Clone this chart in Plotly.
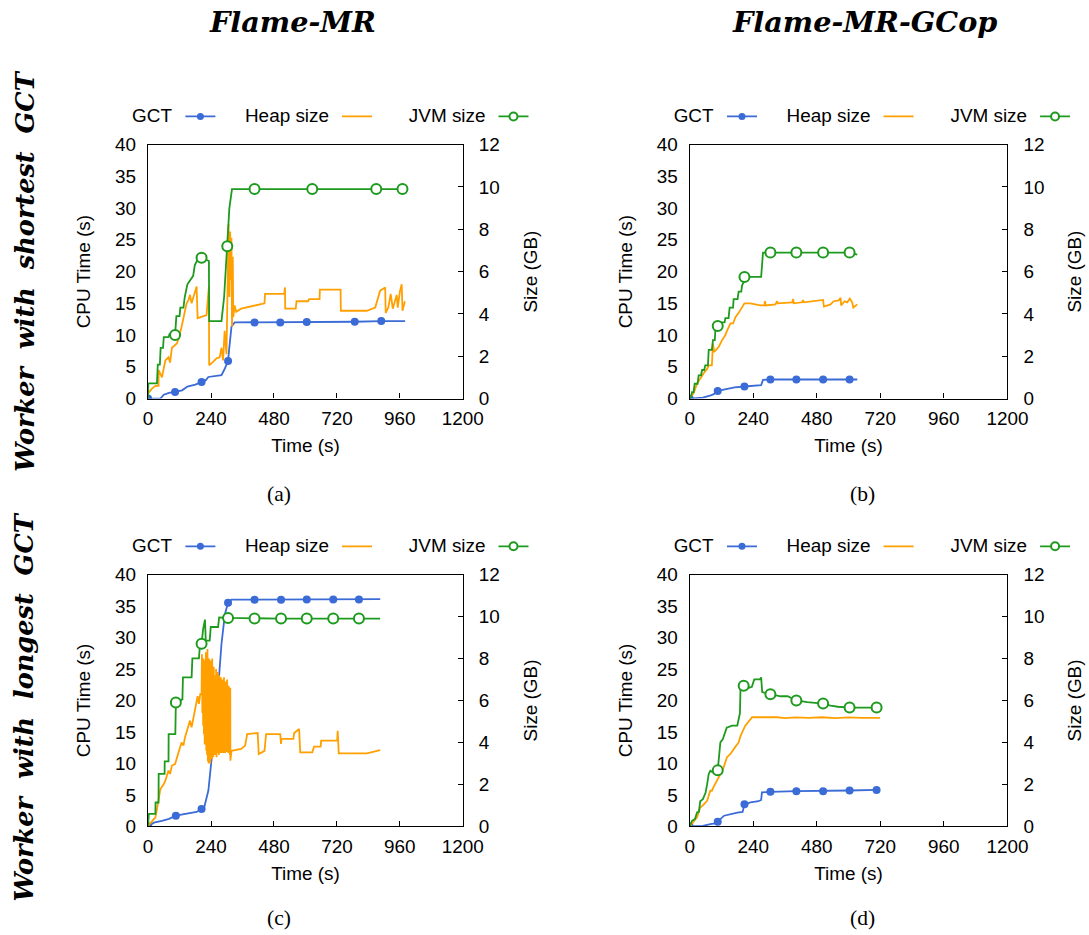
import plotly.graph_objects as go

# ---------------- DATA ----------------
# Panel (a): Flame-MR, worker with shortest GCT
a_gct_t = [0, 47, 60, 80, 103, 130, 150, 180, 204, 220, 230, 280, 290, 305, 310, 318, 330, 406, 504, 605, 788, 889, 980]
a_gct_v = [0, 0, 0.6, 0.9, 1.05, 1.3, 1.9, 2.2, 2.6, 2.9, 3.4, 3.7, 4.5, 5.9, 8.1, 11.3, 12.0, 12.0, 12.0, 12.05, 12.1, 12.2, 12.2]
a_gct_marks = [0, 103, 204, 305, 406, 504, 605, 788, 889]

a_heap_t = [0, 15, 28, 40, 40.5, 53, 66, 78, 84, 91, 110, 118, 128, 135, 141, 147, 154, 160, 166, 173, 179, 185,
            189, 204, 223, 232, 233, 248, 261, 273, 280, 286, 292, 299, 302, 305, 307, 310, 313, 315, 318, 320, 323,
            325, 330, 336, 355, 444, 446, 519, 522, 523, 563, 566, 610, 614, 654, 655, 734, 735, 834, 866, 878, 885,
            904, 906, 916, 925, 933, 942, 948, 952, 960, 967, 970, 975, 979]
a_heap_v = [0.24, 0.47, 0.6, 0.6, 1.35, 1.0, 1.8, 1.95, 1.7, 2.4, 2.6, 2.9, 3.4, 3.85, 4.2, 4.5, 4.65, 4.9, 4.5, 4.8,
            5.1, 5.3, 3.8, 3.85, 3.95, 5.3, 1.57, 1.73, 1.9, 1.95, 2.4, 1.8, 3.2, 2.1, 4.8, 6.4, 8.25, 4.8, 7.9, 5.6,
            7.6, 3.4, 6.7, 3.85, 4.4, 4.1, 4.25, 4.5, 4.95, 4.95, 5.25, 4.25, 4.25, 4.6, 4.6, 4.7, 4.7, 5.15, 5.15,
            4.15, 4.15, 4.3, 4.8, 5.1, 5.25, 4.05, 4.3, 4.95, 4.25, 4.7, 4.9, 4.3, 5.05, 5.4, 4.15, 4.4, 4.6]

a_jvm_t = [0, 1, 34, 37, 45, 48, 57, 60, 78, 82, 103, 108, 120, 123, 135, 140, 150, 160, 172, 178, 190, 204, 215, 232,
           233, 280, 290, 302, 310, 320, 406, 626, 870, 970, 980]
a_jvm_v = [0, 0.72, 0.72, 1.6, 1.6, 2.4, 2.4, 2.9, 2.9, 3.05, 3.0, 3.9, 3.9, 4.3, 4.3, 4.8, 5.4, 5.6, 5.8, 6.3, 6.6,
           6.66, 6.6, 6.5, 3.66, 3.66, 4.8, 7.2, 9.0, 9.9, 9.9, 9.9, 9.9, 9.9, 9.9]
a_jvm_marks = [103, 204, 302, 406, 626, 870, 970]

# Panel (b): Flame-MR-GCop, worker with shortest GCT
b_gct_t = [0, 30, 50, 80, 91, 106, 130, 150, 170, 207, 230, 270, 277, 305, 403, 504, 604, 633]
b_gct_v = [0, 0.05, 0.15, 0.5, 0.7, 1.2, 1.4, 1.6, 1.75, 1.9, 1.95, 2.1, 2.95, 3.0, 3.0, 3.0, 3.0, 3.0]
b_gct_marks = [0, 106, 207, 305, 403, 504, 604]

b_heap_t = [0, 15, 28, 40, 53, 66, 72, 84, 88, 93, 110, 122, 135, 141, 154, 164, 173, 185, 192, 207, 229, 267, 282,
            285, 287, 324, 330, 333, 387, 391, 393, 425, 428, 431, 504, 507, 532, 544, 563, 570, 572, 585, 595, 605,
            614, 618, 633]
b_heap_v = [0.05, 0.25, 0.7, 0.95, 1.2, 1.4, 1.57, 1.57, 2.6, 2.2, 2.45, 2.75, 3.0, 3.2, 3.55, 3.55, 3.85, 4.05, 4.2,
            4.5, 4.5, 4.4, 4.4, 4.6, 4.4, 4.45, 4.6, 4.5, 4.55, 4.7, 4.5, 4.55, 4.66, 4.55, 4.66, 4.35, 4.45, 4.6,
            4.64, 4.76, 4.4, 4.6, 4.55, 4.72, 4.55, 4.3, 4.45]

b_jvm_t = [0, 5, 9, 15, 19, 30, 34, 43, 47, 55, 59, 69, 72, 84, 88, 95, 97, 106, 116, 122, 132, 135, 147, 151, 164,
           166, 181, 185, 195, 198, 204, 207, 270, 277, 305, 403, 504, 604, 618, 633]
b_jvm_v = [0, 0.08, 0.3, 0.3, 0.7, 0.7, 1.1, 1.1, 1.35, 1.35, 1.57, 1.57, 2.3, 2.3, 2.76, 2.76, 3.2, 3.43, 3.43, 3.6,
           3.6, 3.8, 3.8, 4.3, 4.3, 4.7, 4.7, 5.05, 5.05, 5.35, 5.5, 5.75, 5.75, 6.9, 6.9, 6.9, 6.9, 6.9, 6.85, 6.8]
b_jvm_marks = [106, 207, 305, 403, 504, 604]

# Panel (c): Flame-MR, worker with longest GCT
c_gct_t = [0, 22, 53, 80, 106, 150, 185, 204, 214, 230, 242, 261, 280, 293, 305, 318, 406, 507, 605, 706, 804, 885]
c_gct_v = [0, 0.6, 0.9, 1.2, 1.7, 2.0, 2.3, 2.75, 3.0, 5.7, 10.4, 18.4, 29.0, 33.7, 35.5, 36.0, 36.0, 36.0, 36.05,
           36.05, 36.05, 36.1]
c_gct_marks = [0, 106, 204, 305, 406, 507, 605, 706, 804]

c_heap_t = [0, 28, 34, 40, 47, 59, 66, 72, 78, 84, 91, 103, 110, 122, 128, 135, 141, 154, 160, 166, 173, 179, 185,
            189, 194, 199,
            204, 205.5, 207, 208.5, 210, 211.5, 213, 214.5, 216, 217.5, 219, 220.5, 222, 223.5, 225, 226.5, 228,
            229.5, 231, 232.5, 234, 235.5, 237, 238.5, 240, 241.5, 243, 244.5, 246, 247.5, 249, 250.5, 252, 253.5,
            255, 256.5, 258, 259.5, 261, 262.5, 264, 265.5, 267, 268.5, 270, 271.5, 273, 274.5, 276, 277.5, 279,
            280.5, 282, 283.5, 285, 286.5, 288, 289.5, 291, 292.5, 294, 295.5, 297, 298.5, 300, 301.5, 303, 304.5,
            306, 307.5, 309, 310.5, 312, 313.5,
            314, 318, 355, 370, 378, 418, 422, 444, 450, 504, 507, 509, 554, 557, 576, 580, 626, 633, 658, 660, 721,
            723, 727, 834, 885]
c_heap_v = [0.03, 0.43, 0.83, 1.22, 1.78, 2.0, 2.18, 2.42, 2.66, 2.5, 2.9, 2.97, 3.3, 3.77, 4.0, 3.85, 4.25, 4.88,
            5.04, 4.72, 5.2, 5.68, 6.0, 6.2, 5.84, 6.3,
            6.3, 8.2, 5.4, 7.6, 4.8, 8.0, 4.4, 7.2, 3.9, 7.9, 4.2, 8.3, 3.6, 6.8, 3.4, 8.45, 3.1, 7.5, 3.0, 8.0, 3.3,
            6.5, 3.0, 7.9, 3.5, 7.0, 3.2, 8.0, 3.6, 6.4, 3.3, 7.6, 3.5, 7.2, 3.4, 6.2, 3.6, 7.5, 3.3, 6.8, 3.7, 7.35,
            3.5, 6.0, 3.4, 7.2, 3.6, 6.6, 3.5, 7.1, 3.8, 5.9, 3.5, 7.0, 3.6, 6.4, 3.5, 7.1, 3.7, 6.0, 3.5, 6.9, 3.6,
            6.3, 3.55, 7.0, 3.7, 5.8, 3.5, 6.7, 3.6, 6.2, 3.4, 6.6,
            3.13, 3.6, 3.69, 3.85, 4.4, 4.45, 3.45, 3.6, 4.4, 4.4, 3.93, 4.17, 4.17, 4.45, 4.64, 3.53, 3.53, 3.8,
            3.8, 4.09, 4.09, 4.56, 3.48, 3.48, 3.64]

c_jvm_t = [0, 3, 28, 28.5, 40, 40.5, 63, 63.5, 78, 78.5, 104, 106, 131, 133, 166, 169, 194, 198, 204, 210, 217, 220,
           235, 239, 267, 271, 305, 406, 507, 605, 706, 804, 885]
c_jvm_v = [0, 0.6, 0.6, 1.14, 1.14, 2.5, 2.5, 3.1, 3.1, 4.4, 4.4, 5.9, 6.05, 7.1, 7.1, 8.0, 8.0, 8.7, 8.7, 9.4, 9.85,
           8.85, 8.85, 9.5, 9.5, 9.96, 9.93, 9.9, 9.9, 9.9, 9.9, 9.9, 9.9]
c_jvm_marks = [106, 204, 305, 406, 507, 605, 706, 804]

# Panel (d): Flame-MR-GCop, worker with longest GCT
d_gct_t = [0, 50, 78, 100, 106, 120, 130, 180, 200, 207, 230, 260, 270, 273, 305, 403, 504, 604, 706, 714]
d_gct_v = [0, 0.1, 0.37, 0.5, 0.75, 1.4, 1.7, 2.2, 2.3, 3.5, 3.8, 4.0, 4.2, 5.4, 5.5, 5.6, 5.6, 5.7, 5.8, 5.8]
d_gct_marks = [0, 106, 207, 305, 403, 504, 604, 706]

d_heap_t = [0, 15, 28, 40, 50, 66, 78, 84, 91, 110, 128, 141, 154, 173, 185, 192, 210, 236, 270, 300, 330, 360, 400,
            450, 500, 550, 600, 650, 719]
d_heap_v = [0, 0.25, 0.43, 0.9, 1.0, 1.22, 1.7, 1.7, 1.9, 2.34, 2.8, 3.3, 3.45, 3.8, 4.0, 4.3, 4.8, 5.2, 5.2, 5.18,
            5.2, 5.16, 5.19, 5.17, 5.2, 5.16, 5.19, 5.17, 5.17]

d_jvm_t = [0, 9, 20, 28, 35, 40, 50, 53, 60, 66, 72, 78, 84, 106, 110, 116, 125, 135, 140, 160, 180, 190, 192, 204,
           214, 223, 235, 244, 265, 270, 274, 305, 343, 370, 403, 444, 504, 532, 560, 604, 706, 714]
d_jvm_v = [0, 0.27, 0.35, 0.67, 0.7, 1.2, 1.3, 1.4, 1.6, 2.0, 2.5, 2.65, 2.6, 2.67, 3.1, 4.0, 4.15, 4.6, 4.7, 4.8,
           4.8, 5.4, 6.6, 6.7, 6.9, 6.6, 6.65, 7.0, 7.0, 7.1, 6.4, 6.3, 6.2, 6.2, 6.0, 5.92, 5.85, 5.75, 5.7, 5.66,
           5.66, 5.66]
d_jvm_marks = [106, 204, 305, 403, 504, 604, 706]

x_ticks = [0, 240, 480, 720, 960, 1200]
cpu_ticks = [0, 5, 10, 15, 20, 25, 30, 35, 40]
size_ticks = [0, 2, 4, 6, 8, 10, 12]

col_titles = ["Flame-MR", "Flame-MR-GCop"]
row_titles = ["Worker  with  shortest  GCT", "Worker  with  longest  GCT"]
captions = ["(a)", "(b)", "(c)", "(d)"]
series_names = ["GCT", "Heap size", "JVM size"]

# ---------------- STYLE ----------------
# The captured page is scaled slightly (measured: screen = A*figure_px + B),
# so positions are given in screen pixels and converted here.
AX, BX = 0.9771, 3.84
AY, BY = 0.9781, 9.31
W, H = 1100, 945
C_GCT, C_HEAP, C_JVM = "#3a6bd6", "#ffa000", "#1e9a1e"
SANS = "Liberation Sans"
SERIF = "Liberation Serif"
TSERIF = "DejaVu Serif"


def fs(s):
    return round(s / AX, 1)


FS = fs(18.5)


def px_x(p):
    return ((p - BX) / AX) / W


def px_y(p):
    return 1 - ((p - BY) / AY) / H


panels = [
    dict(gct=(a_gct_t, a_gct_v, a_gct_marks), heap=(a_heap_t, a_heap_v), jvm=(a_jvm_t, a_jvm_v, a_jvm_marks),
         xd=(147, 462), yd=(144, 398)),
    dict(gct=(b_gct_t, b_gct_v, b_gct_marks), heap=(b_heap_t, b_heap_v), jvm=(b_jvm_t, b_jvm_v, b_jvm_marks),
         xd=(689, 1007), yd=(144, 398)),
    dict(gct=(c_gct_t, c_gct_v, c_gct_marks), heap=(c_heap_t, c_heap_v), jvm=(c_jvm_t, c_jvm_v, c_jvm_marks),
         xd=(147, 462), yd=(574, 826)),
    dict(gct=(d_gct_t, d_gct_v, d_gct_marks), heap=(d_heap_t, d_heap_v), jvm=(d_jvm_t, d_jvm_v, d_jvm_marks),
         xd=(689, 1007), yd=(574, 826)),
]


def pick(ts, vs, marks):
    lookup = dict(zip(ts, vs))
    return marks, [lookup[m] for m in marks]


fig = go.Figure()
layout = {}
legend_n = 0
for i, p in enumerate(panels):
    xa = "x" if i == 0 else f"x{i + 1}"
    yl = f"y{2 * i + 1}" if i > 0 else "y"
    yr = f"y{2 * i + 2}"
    xkey = "xaxis" if i == 0 else f"xaxis{i + 1}"
    ylkey = "yaxis" if i == 0 else f"yaxis{2 * i + 1}"
    yrkey = f"yaxis{2 * i + 2}"

    gt, gv, gm = p["gct"]
    ht, hv = p["heap"]
    jt, jv, jm = p["jvm"]

    fig.add_trace(go.Scatter(x=gt, y=gv, mode="lines", line=dict(color=C_GCT, width=1.8),
                             xaxis=xa, yaxis=yl, showlegend=False, name="GCT"))
    mx, my = pick(gt, gv, gm)
    fig.add_trace(go.Scatter(x=mx, y=my, mode="markers", marker=dict(color=C_GCT, size=8),
                             xaxis=xa, yaxis=yl, showlegend=False, name="GCT"))
    fig.add_trace(go.Scatter(x=ht, y=hv, mode="lines", line=dict(color=C_HEAP, width=1.8),
                             xaxis=xa, yaxis=yr, showlegend=False, name="Heap size"))
    fig.add_trace(go.Scatter(x=jt, y=jv, mode="lines", line=dict(color=C_JVM, width=1.8),
                             xaxis=xa, yaxis=yr, showlegend=False, name="JVM size"))
    mx, my = pick(jt, jv, jm)
    fig.add_trace(go.Scatter(x=mx, y=my, mode="markers",
                             marker=dict(color="white", size=10, line=dict(color=C_JVM, width=2)),
                             xaxis=xa, yaxis=yr, showlegend=False, name="JVM size"))

    x0, x1 = p["xd"]
    y0, y1 = p["yd"]
    layout[xkey] = dict(domain=[px_x(x0), px_x(x1)], range=[0, 1200], tickvals=x_ticks, ticks="inside",
                        ticklen=5, tickcolor="black", showline=True, mirror=True, linecolor="black", linewidth=1.3,
                        showgrid=False, zeroline=False, anchor=yl, ticklabelstandoff=3,
                        tickfont=dict(family=SANS, size=FS, color="black"),
                        title=dict(text="Time (s)", font=dict(family=SANS, size=FS, color="black"), standoff=10))
    layout[ylkey] = dict(domain=[px_y(y1), px_y(y0)], range=[0, 40], tickvals=cpu_ticks, ticks="",
                         showline=True, mirror=True, linecolor="black", linewidth=1.3, showgrid=False,
                         zeroline=False, anchor=xa, ticklabelstandoff=7,
                         tickfont=dict(family=SANS, size=FS, color="black"),
                         title=dict(text="CPU Time (s)", font=dict(family=SANS, size=FS, color="black"), standoff=19))
    layout[yrkey] = dict(range=[0, 12], tickvals=size_ticks, ticks="inside", ticklen=5, tickcolor="black",
                         side="right", overlaying=yl, anchor=xa, showline=False, showgrid=False, zeroline=False,
                         ticklabelstandoff=15,
                         tickfont=dict(family=SANS, size=FS, color="black"),
                         title=dict(text="Size (GB)", font=dict(family=SANS, size=FS, color="black"), standoff=24))

    # legend (label text on the left, sample on the right, as in gnuplot)
    leg_y = px_y(y0 - 28)
    text_x = [x0 - 18, x0 + 95, x0 + 259]
    specs = [
        dict(mode="lines+markers", line=dict(color=C_GCT, width=1.8), marker=dict(color=C_GCT, size=7)),
        dict(mode="lines", line=dict(color=C_HEAP, width=1.8)),
        dict(mode="lines+markers", line=dict(color=C_JVM, width=1.8),
             marker=dict(color="white", size=8, line=dict(color=C_JVM, width=2))),
    ]
    for k in range(3):
        legend_n += 1
        lkey = "legend" if legend_n == 1 else f"legend{legend_n}"
        fig.add_trace(go.Scatter(x=[None], y=[None], name=" ", legend=lkey, showlegend=True,
                                 xaxis=xa, yaxis=yl, **specs[k]))
        layout[lkey] = dict(x=px_x(text_x[k]), y=leg_y, xanchor="left", yanchor="middle",
                            orientation="h", bgcolor="rgba(0,0,0,0)", borderwidth=0,
                            itemwidth=30, font=dict(family=SANS, size=FS, color="black"),
                            title=dict(text=series_names[k], side="left",
                                       font=dict(family=SANS, size=FS, color="black")))

annotations = []
for k, (cx, t) in enumerate(zip([292, 864], col_titles)):
    annotations.append(dict(text=t, x=px_x(cx), y=px_y(21), xref="paper", yref="paper", showarrow=False,
                            xanchor="center", yanchor="middle",
                            font=dict(family=TSERIF, size=fs(28), color="black", weight="bold", style="italic")))
for k, (cy, t) in enumerate(zip([271, 707], row_titles)):
    annotations.append(dict(text=t, x=px_x(23), y=px_y(cy), xref="paper", yref="paper", showarrow=False,
                            xanchor="center", yanchor="middle", textangle=-90,
                            font=dict(family=TSERIF, size=fs(25), color="black", weight="bold", style="italic")))
for (cx, cy), t in zip([(278, 493), (862, 493), (278, 918), (862, 918)], captions):
    annotations.append(dict(text=t, x=px_x(cx), y=px_y(cy), xref="paper", yref="paper", showarrow=False,
                            xanchor="center", yanchor="middle",
                            font=dict(family=SERIF, size=fs(21), color="black")))

fig.update_layout(width=W, height=H, margin=dict(l=0, r=0, t=0, b=0), plot_bgcolor="white",
                  paper_bgcolor="white", annotations=annotations, **layout)
fig.write_html("out.html")
